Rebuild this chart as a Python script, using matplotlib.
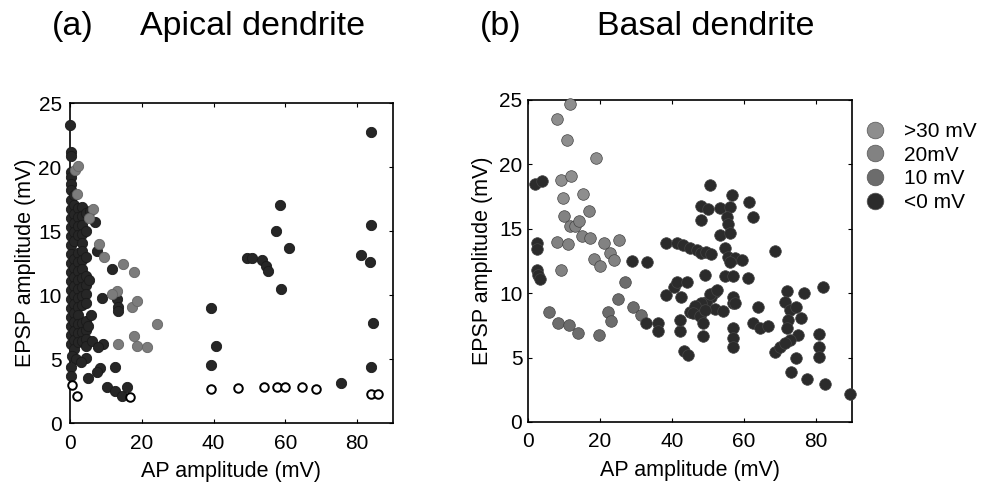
import matplotlib
import numpy as np
from matplotlib import pyplot as plt

matplotlib.use('agg')
plt.rcParams['font.family'] = ['Liberation Sans', 'DejaVu Sans']

# ---- panel (a): apical dendrite ----
apical_dark_x = [0.1, 0.2, 0.3, 0.2, 0.3, 0.4,
                 0.3, 0.3, 0.3, 0.3, 0.3, 0.3, 0.3, 0.3, 0.3, 0.3, 0.3, 0.3, 0.3, 0.3, 0.3, 0.3, 0.3, 0.3,
                 1.2, 1.2, 1.2, 1.2, 1.2, 1.2, 1.2, 1.2, 1.2, 1.2, 1.2, 1.2, 1.2, 1.2, 1.2, 1.2, 1.2,
                 2.2, 2.2, 2.2, 2.2, 2.2, 2.2, 2.2, 2.2, 2.2, 2.2, 2.2, 2.2, 2.2, 2.2, 2.2,
                 3.3, 3.3, 3.3, 3.3, 3.3, 3.3, 3.3, 3.3, 3.3, 3.3, 3.3, 3.3, 3.3, 3.3, 3.3,
                 4.4, 4.4, 4.4, 4.4, 4.4, 4.4, 4.4, 4.4, 4.4, 4.4, 4.4,
                 5.5, 5.2, 5.8, 6.0, 5.0,
                 0.5, 1.6, 0.3, 0.2, 4.5, 3.2,
                 7.0, 7.6, 11.6, 8.8, 13.0, 13.5, 13.5, 9.1, 7.9, 12.6, 8.4, 7.5, 5.1,
                 10.2, 12.6, 14.4, 15.8,
                 83.8, 58.5, 57.3, 61.1, 49.2, 50.8, 53.5, 54.5, 55.2, 58.8,
                 83.8, 81.1, 83.7, 84.5, 83.9, 39.2, 40.7, 39.3, 75.5]
apical_dark_y = [23.3, 21.2, 20.9, 19.6, 19.2, 18.7,
                 18.2, 17.4, 16.7, 16.0, 15.3, 14.6, 13.9, 13.2, 12.5, 11.8, 11.1, 10.4, 9.7, 9.0, 8.3, 7.6, 6.9, 6.2,
                 17.8, 17.0, 16.3, 15.6, 14.9, 14.2, 12.8, 12.1, 11.4, 10.7, 10.0, 9.3, 8.6, 7.9, 7.2, 6.5, 5.8,
                 16.8, 16.1, 15.4, 14.7, 13.3, 12.6, 11.9, 11.2, 10.5, 9.8, 9.1, 8.4, 7.7, 7.0, 6.3,
                 16.9, 16.2, 15.5, 14.8, 14.1, 13.4, 12.7, 12.0, 11.3, 10.6, 9.9, 9.2, 7.8, 7.1, 6.4,
                 16.4, 15.0, 13.0, 11.5, 10.8, 10.1, 9.4, 8.0, 7.3, 6.6, 6.0,
                 16.6, 11.2, 8.4, 6.4, 7.6,
                 5.2, 5.0, 4.4, 3.7, 5.1, 4.8,
                 15.7, 13.4, 12.0, 9.8, 9.7, 9.1, 8.75, 6.2, 5.9, 4.4, 4.3, 4.0, 3.5,
                 2.85, 2.5, 2.1, 2.85,
                 22.7, 17.0, 15.0, 13.7, 12.9, 12.9, 12.75, 12.3, 11.9, 10.5,
                 15.5, 13.1, 12.6, 7.8, 4.4, 9.0, 6.05, 4.5, 3.1]

apical_gray_x = [1.4, 2.3, 1.9, 6.5, 5.4, 8.1, 9.5, 14.9, 17.9, 13.0, 11.6, 17.2, 18.8,
                 24.2, 17.7, 18.8, 21.4, 13.5]
apical_gray_y = [19.8, 20.1, 17.9, 16.7, 16.0, 14.0, 12.95, 12.4, 11.8, 10.3, 10.1, 9.1, 9.5,
                 7.7, 6.8, 6.0, 5.9, 6.2]

apical_open_x = [0.5, 1.9, 16.8, 39.4, 46.9, 54.0, 57.7, 59.8, 64.6, 68.6, 83.8, 85.7]
apical_open_y = [3.0, 2.1, 2.07, 2.65, 2.7, 2.85, 2.8, 2.8, 2.8, 2.65, 2.3, 2.3]

# ---- panel (b): basal dendrite ----
basal_30_x = [11.7, 8.1, 11.0, 18.8, 9.1, 11.9, 15.2, 9.8]
basal_30_y = [24.7, 23.5, 21.9, 20.5, 18.8, 19.1, 17.7, 17.4]

basal_20_x = [16.9, 10.1, 11.7, 13.1, 14.3, 14.9, 17.2, 8.1, 11.2, 9.1, 18.3, 20.0,
              21.1, 22.8, 23.9, 25.4]
basal_20_y = [16.4, 16.0, 15.2, 15.2, 15.6, 14.4, 14.3, 14.0, 13.8, 11.8, 12.65, 12.1,
              13.9, 13.1, 12.6, 14.1]

basal_10_x = [26.9, 24.9, 22.3, 23.2, 19.8, 5.9, 8.4, 11.5, 13.8, 29.3, 31.4]
basal_10_y = [10.9, 9.55, 8.5, 7.8, 6.75, 8.55, 7.7, 7.5, 6.9, 8.9, 8.3]

basal_0_x = [1.9, 3.8, 2.4, 2.4, 2.4, 2.9, 3.3,
             28.8, 33.0, 32.8, 36.2, 36.2,
             38.3, 41.3, 43.1, 45.0, 46.9, 48.2, 49.6, 51.0,
             38.5, 40.6, 41.3, 42.4, 42.2, 43.3, 44.6, 45.0,
             50.6, 56.6, 61.5, 62.6,
             48.2, 50.1, 48.2, 53.3, 56.1, 55.2, 55.6, 53.3, 56.1,
             68.6,
             54.7, 55.6, 57.5, 59.4, 56.1,
             49.2, 54.7, 57.0, 61.2,
             44.1, 51.9, 51.0, 49.6, 48.2, 46.4, 45.9, 47.8, 48.7, 51.9, 54.2, 57.0, 57.0,
             49.2, 50.6, 52.4, 57.5,
             48.7, 42.2, 57.0, 57.0, 57.0,
             64.0, 62.6, 64.4, 66.8,
             71.9, 71.4, 72.8, 74.6, 76.0, 72.3, 71.9, 75.1, 72.8, 76.7, 81.9,
             80.9, 80.9, 80.9, 68.6, 70.0, 71.4, 74.6, 73.2, 77.4, 82.5, 89.4]
basal_0_y = [18.5, 18.7, 13.9, 13.4, 11.8, 11.4, 11.1,
             12.5, 12.45, 7.65, 7.7, 7.1,
             13.9, 13.9, 13.75, 13.5, 13.35, 13.1, 13.2, 13.0,
             9.85, 10.5, 10.9, 9.7, 7.1, 5.5, 5.2, 8.5,
             18.4, 17.6, 17.1, 15.9,
             16.8, 16.5, 15.7, 16.6, 16.7, 15.9, 15.4, 14.5, 14.65,
             13.3,
             13.5, 12.8, 12.7, 12.6, 12.45,
             11.4, 11.3, 11.3, 11.15,
             10.9, 10.1, 9.7, 9.35, 9.2, 9.0, 8.45, 8.2, 7.7, 8.8, 8.6, 9.2, 9.7,
             8.7, 9.9, 10.25, 9.2,
             6.7, 7.9, 7.3, 6.5, 5.85,
             8.95, 7.65, 7.3, 7.45,
             10.2, 9.35, 8.7, 8.95, 8.1, 7.9, 7.3, 6.75, 6.35, 10.0, 10.5,
             6.85, 5.85, 5.05, 5.45, 5.85, 6.1, 5.0, 3.9, 3.3, 2.95, 2.2]

legend_labels = ['>30 mV', '20mV', '10 mV', '<0 mV']
legend_colors = ['#8e8e8e', '#828282', '#6c6c6c', '#2b2b2b']
DARK = '#262626'
GRAY = '#7c7c7c'


def style_axes(ax):
    ax.set_xlim(0, 90)
    ax.set_ylim(0, 25)
    ax.set_xticks([0, 20, 40, 60, 80])
    ax.set_yticks([0, 5, 10, 15, 20, 25])
    ax.tick_params(direction='in', top=True, right=True, length=3, width=0.8,
                   labelsize=15)
    for s in ax.spines.values():
        s.set_linewidth(1.2)
    ax.set_xlabel('AP amplitude (mV)', fontsize=15.5)
    ax.set_ylabel('EPSP amplitude (mV)', fontsize=15.5)


fig = plt.figure(figsize=(9.83, 4.83), dpi=100)

ax1 = fig.add_axes([0.0712, 0.1242, 0.3286, 0.6625])
ax1.scatter(apical_dark_x, apical_dark_y, s=55, c=DARK, edgecolors='#1a1a1a',
            linewidths=0.6, clip_on=False, zorder=3)
ax1.scatter(apical_gray_x, apical_gray_y, s=55, c=GRAY, edgecolors='#666666',
            linewidths=0.6, clip_on=False, zorder=3)
ax1.scatter(apical_open_x, apical_open_y, s=38, c='white', edgecolors='black',
            linewidths=1.4, clip_on=False, zorder=4)
style_axes(ax1)
ax1.tick_params(axis='x', pad=8)
ax1.tick_params(axis='y', pad=6)
ax1.xaxis.labelpad = 6
ax1.yaxis.labelpad = 2

ax2 = fig.add_axes([0.537, 0.1263, 0.3296, 0.667])
for xs, ys, col in [(basal_30_x, basal_30_y, legend_colors[0]),
                    (basal_20_x, basal_20_y, legend_colors[1]),
                    (basal_10_x, basal_10_y, legend_colors[2]),
                    (basal_0_x, basal_0_y, legend_colors[3])]:
    ax2.scatter(xs, ys, s=70, c=col, edgecolors='#444444', linewidths=0.5,
                clip_on=False, zorder=3)
style_axes(ax2)
ax2.tick_params(axis='x', pad=7)
ax2.tick_params(axis='y', pad=4)
ax2.xaxis.labelpad = 7
ax2.yaxis.labelpad = 4

handles = [plt.Line2D([], [], marker='o', ls='', ms=12, color=c, mec='#555555', mew=0.5)
           for c in legend_colors]
fig.legend(handles, legend_labels, loc='upper left', bbox_to_anchor=(0.86, 0.786),
           frameon=False, fontsize=15, handletextpad=0.9, labelspacing=0.22,
           handlelength=1.0)

fig.text(0.053, 0.9275, '(a)', fontsize=24.5, va='baseline')
fig.text(0.1425, 0.9275, 'Apical dendrite', fontsize=24.5, va='baseline')
fig.text(0.488, 0.9275, '(b)', fontsize=24.5, va='baseline')
fig.text(0.607, 0.9275, 'Basal dendrite', fontsize=24.5, va='baseline')

fig.savefig('out.png', dpi=100, facecolor='white')
